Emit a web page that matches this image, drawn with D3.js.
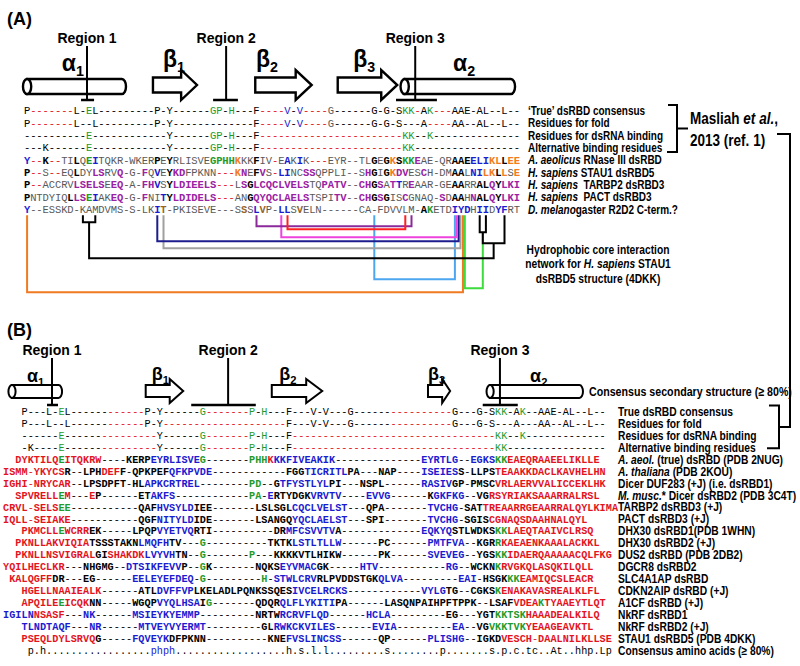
<!DOCTYPE html>
<html><head><meta charset="utf-8">
<script src="https://cdn.jsdelivr.net/npm/d3@7"></script>
<style>body{margin:0;background:#fff} text{white-space:pre}</style>
</head><body>
<svg id="c" width="800" height="666" xmlns="http://www.w3.org/2000/svg"></svg>
<script>
// ---------------- DATA ----------------
const COLORS = {k:'#000',d:'#000',g:'#595959',r:'#e3141e',G:'#1f9a2b',b:'#1b1bd0',p:'#9a22a3',o:'#f47a20',n:'#9a6424'};

// Panel A rows (markup: {code}run)
const aLabels = [
  "‘True’ dsRBD consensus",
  "Residues for fold",
  "Residues for dsRNA binding",
  "Alternative binding residues",
  "<i>A. aeolicus</i> RNase III dsRBD",
  "<i>H. sapiens</i> STAU1 dsRBD5",
  "<i>H. sapiens</i>  TARBP2 dsRBD3",
  "<i>H. sapiens</i>  PACT dsRBD3",
  "<i>D. melano</i>gaster R2D2 C-term.?"
];
const aSeqs = [
  "{k}P{r}-------{k}L-{G}E{k}L---------P-Y------{G}GP{k}-{G}H{k}---F{r}----{b}V{k}-{b}V{r}----{g}G{k}------G-G-S{G}KK{r}-{k}A{G}K{r}---{k}AAE-AL--L--",
  "{k}P{r}-------{k}L--L---------P-Y-------------F{r}----{b}V{k}-{b}V{r}----{g}G{k}------G-G-S---A{r}----{k}AA--AL--L--",
  "{k}----------{G}E{k}------------Y------{G}GP{k}-{G}H{k}---F{r}-----------------------{G}KK{k}--{G}K{k}--------------",
  "{k}---K------{G}E{k}------------Y------{G}GP{k}-{G}H{k}---F{r}-----------------------{G}KK{k}-----------------",
  "{b}Y{r}--{k}K{r}--{g}TI{k}L{g}Q{G}E{b}I{g}TQKR-WKER{k}P{g}E{k}Y{g}RLISVE{G}GPHH{o}K{g}KK{k}F{g}IV{r}-{g}E{b}A{g}K{b}I{g}K{r}---{g}EYR--TL{k}G{g}E{k}G{o}K{k}S{G}KK{p}E{g}AE-QR{k}AAE{b}ELI{o}KL{k}L{o}EE",
  "{k}P{r}--{g}S{r}--{g}EQ{k}L{g}DY{p}LS{g}RV{p}Q{g}-G-{p}F{g}Q{b}V{g}E{k}Y{p}KD{g}FPKNN{r}---{o}K{p}N{g}E{k}F{p}V{g}S{r}-{b}LI{g}NC{p}SS{g}QPPLI--S{p}H{k}G{g}I{k}G{o}K{p}DV{g}ES{p}C{g}H-DM{k}AA{g}L{b}NI{o}LK{k}L{o}L{g}S{o}E",
  "{k}P{r}--{g}ACCRV{p}LSELS{g}E{p}EQ{g}-A-{p}FH{b}V{g}S{k}Y{p}LDIEELS{r}---{g}L{p}S{k}G{p}LCQCLVELS{g}TQ{p}PATV{g}--{p}CH{k}G{p}S{g}A{p}T{b}T{g}R{p}E{g}AAR-GE{k}AA{g}RR{k}AL{p}Q{k}Y{p}LKI",
  "{k}P{g}NTDYIQ{k}L{p}LS{G}E{b}I{g}AK{p}EQ{g}-G-{p}F{g}NI{b}T{k}Y{p}LDIDELS{r}---{g}AN{k}G{p}QYQCLAELS{g}TSPI{p}TV{g}--{p}CH{k}G{p}S{k}G{g}IS{p}C{g}GNAQ-{p}S{g}D{k}AA{g}H{p}N{k}AL{p}Q{k}Y{p}LKI",
  "{b}Y{g}--ESSKD-KAMDVMS-S-LK{b}I{n}T{g}-PKISEVE---S{n}S{g}S{b}L{n}V{g}P-{b}LL{g}S{n}V{g}ELN------CA-FDVVLM-{k}A{G}K{g}ETD{b}IYD{g}H{b}II{g}D{b}YF{g}RT"
];
const aBold = ['none','none','none','none','colored','colored','colored','colored','colored'];

// Panel A secondary structure (alignment columns)
const aStructs = [
  {type:'helix',  name:'α', sub:'1', from:0,    to:15.95, labelCol:5.6},
  {type:'strand', name:'β', sub:'1', from:20.3, to:27.4,  labelCol:21.9},
  {type:'strand', name:'β', sub:'2', from:36.8, to:45.9,  labelCol:36.9},
  {type:'strand', name:'β', sub:'3', from:50.1, to:59.7,  labelCol:52.6},
  {type:'helix',  name:'α', sub:'2', from:60.9, to:78.7,  labelCol:68.7}
];
const aRegions = [
  {name:'Region 1', col:9.66, from:8.7,  to:10.8},
  {name:'Region 2', col:32.1, from:30.0, to:34.0},
  {name:'Region 3', col:62.6, from:59.5, to:66.1}
];

// Hydrophobic core interaction network (R2D2 row columns)
const netLinks = [
  {color:'#f07a21', a:0,  b:70.3, depth:77},
  {color:'#3ddc3d', a:70.6, b:73.5, depth:73, bTop:17},
  {color:'#4da6f0', a:56, b:69, depth:64},
  {color:'#a0a0a0', a:22, b:69.9, depth:33},
  {color:'#1c1c8f', a:21, b:69.6, depth:26},
  {color:'#ee44dd', a:41, b:69.3, depth:22},
  {color:'#8b2a9a', a:37, b:62, depth:11},
  {color:'#ff2020', a:42, b:61, depth:14}
];
const netBlack = {leftPair:[9,11], rightPair:[73,74], rightEnd:77, depth:43};
const netLabel = ["Hydrophobic core interaction", "network for <i>H. sapiens</i> STAU1", "dsRBD5 structure (4DKK)"];

// Panel B rows
const bLabels = [
  "True dsRBD consensus","Residues for fold","Residues for dsRNA binding","Alternative binding residues",
  "<i>A. aeol.</i> (true) dsRBD (PDB 2NUG)","<i>A. thaliana</i> (PDB 2KOU)","Dicer DUF283 (+J) (i.e. dsRBD1)",
  "<i>M. musc.</i>* Dicer dsRBD2 (PDB 3C4T)","TARBP2 dsRBD3 (+J)","PACT dsRBD3 (+J)","DHX30 dsRBD1(PDB 1WHN)",
  "DHX30 dsRBD2 (+J)","DUS2 dsRBD (PDB 2DB2)","DGCR8 dsRBD2","SLC4A1AP dsRBD","CDKN2AIP dsRBD (+J)",
  "A1CF dsRBD (+J)","NkRF dsRBD1","NkRF dsRBD2 (+J)","STAU1 dsRBD5 (PDB 4DKK)","Consensus amino acids (≥ 80%)"
];
const bStarts = [3,3,3,3, 2,0,0,2,0,0,3,2,2,0,1,3,3,0,3,3,4];
const bSeqs = [
  "{d}P---L-{G}E{d}L------{r}------{d}P-Y------{G}G{r}-------{G}P{d}-{G}H{d}---F---V-V---G------{r}----------{d}G---G-S{G}KK{d}-A{G}K{d}--AAE-AL--L--",
  "{d}P---L--L------{r}------{d}P-Y{r}--------------------{d}F---V-V---G------{r}----------{d}G---G-S---A---AA--AL--L--",
  "{d}------{G}E{d}------{r}---------{d}Y------{G}G{r}-------{G}P{d}-{G}H{d}---F{r}---------------------------------{G}KK{d}--{G}K{d}-------------",
  "{d}-K----{G}E{d}------{r}---------{d}Y------{G}G{r}-------{G}P{d}-{G}H{d}---F{r}---------------------------------{G}KK{d}----------------",
  "{r}DYKTILQ{G}E{r}ITQKRW{d}----KERP{b}EYRLISVE{G}G{d}-------{G}PHH{r}K{b}KKFIVEAKIK{d}--------------{b}EYRTLG{d}--{b}EGKS{G}KK{r}EAEQRAAEELIKLLE",
  "{r}ISMM-YKYCS{d}R--LPH{r}DEF{d}F-QPKPEF{b}QFKPVDE{d}------------FGG{b}TICRITL{d}PA---NAP----{b}ISEIES{d}S-LLPS{r}TEAAKKDACLKAVHELHN",
  "{r}IGHI-NRYCAR{d}--LPSDPFT-HL{b}APKCRTREL{d}--------{G}PD{d}--G{b}TFYSTLYL{d}PI---NSPL------{b}RASIV{d}GP-PMSC{r}VRLAERVVALICCEKLHK",
  "{r}SPVRELL{G}E{r}M{d}---{r}E{d}P------ET{b}AKFS{d}------------{G}PA{d}-{b}E{d}RTYDGK{b}VRVTV{d}----{b}EVVG{d}------K{b}GKFKG{d}--VG{r}RSYRIAKSAAARRALRSL",
  "{r}CRVL-SELS{G}EE{d}-----------QAF{b}HVSYLD{d}IEE-------LSLSGL{b}CQCLVELST{d}---QPA-------{b}TVCHG{d}-SAT{r}TREAARRGEAARRALQYLKIMA",
  "{r}IQLL-SEIAKE{d}-----------QGF{b}NITYLD{d}IDE-------LSANGQ{b}YQCLAELST{d}---SPI-------{b}TVCHG{d}-SGIS{r}CGNAQSDAAHNALQYL",
  "{r}PKMCLL{G}E{r}WCRR{d}EK-----LPQP{b}VYETVQ{d}RTI----------DR{b}MFCSVVTV{d}A-------------{b}EQKYQ{d}STLWDKS{G}KK{r}LAEQTAAIVCLRSQ",
  "{r}PKNLLAKVIQIA{d}TSSSTAKN{b}LMQFH{d}TV---{G}G{d}----------TKTK{b}LSTLTLLW{d}------PC------{b}PMTFVA{d}--KGR{G}R{r}KAEAENKAAALACKKL",
  "{r}PKNLLNSVIGRAL{d}GI{r}SHAKDK{b}LVYVH{d}TN--{G}G{d}-------{G}P{d}---KKKKVTLHIKW------PK------{b}SVEVEG{d}--YGS{G}KK{r}IDAERQAAAAACQLFKG",
  "{r}YQILHECLKR{d}---NHGMG--{b}DTSIKFEVV{d}P--{G}G{d}K-------NQKS{b}EYVMAC{d}GK-----{b}HTV{d}-----------{b}RG{d}--WCKN{G}K{r}RVGKQLASQKILQLL",
  "{r}KALQGFF{d}DR---EG------{b}EELEYEFDEQ{d}-{G}G{d}---------{G}H{d}-{b}STWLCRV{d}RLPVDDSTGK{b}QLVA{d}---------{b}EAI{d}-HSGK{G}KK{r}EAMIQCSLEACR",
  "{r}HGELLNAAIEALK{d}------ATL{b}DVFFVP{d}LKELADLPQNKSSQES{b}IVCELRCKS{d}------------{b}VYLG{d}TG--CGKS{G}K{r}ENAKAVASREALKLFL",
  "{r}APQILE{G}E{r}ICQK{d}NN-----WGQP{b}VYQLHSA{d}I{G}G{d}-------QDQR{b}QLFLYKITI{d}PA------LASQNPAIHPFTPPK--LSAF{r}VDEA{G}K{r}TYAAEYTLQT",
  "{b}IGILN{r}NSASF{d}---{b}NK{d}------{b}MSIEYKYEMMP{d}---------NRTW{b}RCRVFLQD{d}------{b}HCLA{d}---------EG---YGT{G}KKTSK{r}HAAADEALKILQ",
  "{b}TLNDTAQF{d}---{b}NR{d}------{b}MTVEYVYERMT{d}---------GL{b}RWKCKVILES{d}------{b}EVIA{d}---------{b}EA{d}--VG{G}VKKTVK{r}YEAAGEAVKTL",
  "{r}PSEQLDYLSRVQ{d}G-----{b}FQVEYK{d}DFPKNN----------KNE{b}FVSLINCSS{d}------QP------{b}PLISHG{d}--IGKD{r}VESCH-DAALNILKLLSE",
  "{d}p.h.................{b}phph{d}..................h.s.l.l.........s........p.......s.p.c.tc..At..hhp.Lp"
];
const bBold = ['none','none','none','none','all','all','all','all','all','all','all','all','all','all','all','all','all','all','all','all','none'];

const bStructs = [
  {type:'helix',  name:'α', sub:'1', from:0.96, to:9.1,  labelCol:3.4},
  {type:'strand', name:'β', sub:'1', from:22.7, to:28.8, labelCol:23.7},
  {type:'strand', name:'β', sub:'2', from:43.2, to:51.4, labelCol:44.4},
  {type:'strand', name:'β', sub:'3', from:68.6, to:72.2, labelCol:68.6},
  {type:'helix',  name:'α', sub:'2', from:78.7, to:93.8, labelCol:85.2}
];
const bRegions = [
  {name:'Region 1', col:7.46, from:6.65, to:8.44},
  {name:'Region 2', col:36.1, from:30.1, to:40.6},
  {name:'Region 3', col:80.3, from:77.5, to:83.2}
];

// ---------------- DRAWING ----------------
const svg = d3.select('#c');
svg.append('rect').attr('width',800).attr('height',666).attr('fill','#fff');
const seqFont = "'Liberation Mono','Courier New',monospace";
const sans = "'Liberation Sans',Arial,sans-serif";
const NARROW = 0.82;

const xA = d3.scaleLinear().domain([0,1]).range([27.1,33.3]);
const yA = d3.scaleLinear().domain([0,1]).range([110.5,122.83]);
const xB = d3.scaleLinear().domain([0,1]).range([6.1,12.25]);
const yB = d3.scaleLinear().domain([0,1]).range([411.5,423.43]);

function parseSeq(m){
  const out=[]; const re=/\{(\w)\}([^{]*)/g; let mt;
  while((mt=re.exec(m))){ for(const ch of mt[2]) out.push({ch:ch,c:mt[1]}); }
  return out;
}
function rich(sel,str){
  str.split(/(<i>.*?<\/i>)/).filter(s=>s).forEach(p=>{
    const it=p.startsWith('<i>');
    sel.append('tspan').attr('font-style',it?'italic':null).text(it?p.slice(3,-4):p);
  });
  return sel;
}
// condensed (narrow) bold label
function narrowText(parent,x,y,fs,anchor){
  return parent.append('g').attr('transform',`translate(${x},${y}) scale(${NARROW},1)`)
    .append('text').attr('x',0).attr('y',0).attr('dy','0.36em')
    .attr('text-anchor',anchor||'start').attr('font-family',sans).attr('font-weight','bold').attr('font-size',fs);
}
function drawRow(g,chars,start,y,xs,fs,mode){
  g.append('g').selectAll('text').data(chars).join('text')
    .attr('x',(d,i)=>xs(start+i)).attr('y',y).attr('dy','0.36em')
    .attr('text-anchor','middle').attr('font-family',seqFont).attr('font-size',fs)
    .attr('font-weight',d=>{
      if(d.ch==='-'||d.ch==='.') return 'normal';
      if(mode==='all') return 'bold';
      if(mode==='colored' && 'kbpGon'.includes(d.c)) return 'bold';
      return 'normal';})
    .attr('fill',d=>COLORS[d.c]).text(d=>d.ch);
}
function helix(g,x1,x2,cy,h,sw){
  const r=h/2, e=r*0.55;
  g.append('path').attr('d',`M${x1},${cy-r}H${x2-e}A${e},${r} 0 0 1 ${x2-e},${cy+r}H${x1}Z`)
    .attr('fill','#fff').attr('stroke','#000').attr('stroke-width',sw);
  g.append('ellipse').attr('cx',x1).attr('cy',cy).attr('rx',e).attr('ry',r)
    .attr('fill','#fff').attr('stroke','#000').attr('stroke-width',sw);
}
function strand(g,x1,x2,cy,bh,hh,sw){
  const hl=Math.min(16,(x2-x1)*0.36);
  g.append('path').attr('d',`M${x1},${cy-bh/2}H${x2-hl}V${cy-hh/2}L${x2},${cy}L${x2-hl},${cy+hh/2}V${cy+bh/2}H${x1}Z`)
    .attr('fill','#fff').attr('stroke','#000').attr('stroke-width',sw).attr('stroke-linejoin','miter');
}
function ssLabel(g,x,y,s,fs){
  const t=g.append('text').attr('x',x).attr('y',y).attr('font-family',sans).attr('font-weight','bold').attr('font-size',fs);
  t.append('tspan').text(s.name);
  t.append('tspan').attr('font-size',fs*0.62).attr('dy',fs*0.2).text(s.sub);
}
const line=(g,pts,color,w)=>g.append('path').attr('d',d3.line()(pts)).attr('fill','none').attr('stroke',color).attr('stroke-width',w);

// ---- Panel A ----
const gA = svg.append('g');
gA.append('text').attr('x',7).attr('y',25).attr('font-family',sans).attr('font-weight','bold').attr('font-size',18).text('(A)');
aStructs.forEach(s=>{
  const x1=xA(s.from), x2=xA(s.to);
  if(s.type==='helix') helix(gA,x1,x2,86.5,15,2.4);
  else strand(gA,x1,x2,85,15,30,2.4);
  ssLabel(gA,xA(s.labelCol),s.name==='β'?67:71,s,23);
});
aRegions.forEach(r=>{
  gA.append('text').attr('x',xA(r.col)).attr('y',43).attr('text-anchor','middle')
    .attr('font-family',sans).attr('font-weight','bold').attr('font-size',14).text(r.name);
  gA.append('line').attr('x1',xA(r.col)).attr('x2',xA(r.col)).attr('y1',46).attr('y2',100).attr('stroke','#000').attr('stroke-width',2);
  gA.append('line').attr('x1',xA(r.from)).attr('x2',xA(r.to)).attr('y1',100).attr('y2',100).attr('stroke','#000').attr('stroke-width',2.5);
});
aSeqs.forEach((m,i)=>drawRow(gA,parseSeq(m),0,yA(i),xA,10.5,aBold[i]));
aLabels.forEach((l,i)=>rich(narrowText(gA,528,yA(i),12.2),l));
// bracket A
const brA=[yA(0)-5.5,yA(3)+4.5];
line(gA,[[668,brA[0]],[677,brA[0]],[677,brA[1]],[667,brA[1]]],'#000',2);
line(gA,[[677,(brA[0]+brA[1])/2],[688,(brA[0]+brA[1])/2]],'#000',2);
narrowText(gA,690,118,16.5).call(t=>{t.append('tspan').text('Masliah ');t.append('tspan').attr('font-style','italic').text('et al.');t.append('tspan').text(',');});
narrowText(gA,690,140,16.5).text('2013 (ref. 1)');

// network
const topY = yA(8)+6;
const netY = d=>topY+d;
netLinks.forEach(l=>{
  const endTop = l.bTop!==undefined ? netY(l.bTop) : topY;
  line(gA,[[xA(l.a),topY],[xA(l.a),netY(l.depth)],[xA(l.b),netY(l.depth)],[xA(l.b),endTop]],l.color,2);
});
{
  const b=netBlack, L=b.leftPair, R=b.rightPair;
  const lm=(L[0]+L[1])/2, rm=(R[0]+R[1])/2, jm=(rm+b.rightEnd)/2;
  line(gA,[[xA(L[0]),topY],[xA(L[0]),netY(7)],[xA(L[1]),netY(7)],[xA(L[1]),topY]],'#000',2);
  line(gA,[[xA(lm),netY(7)],[xA(lm),netY(b.depth)],[xA(jm),netY(b.depth)],[xA(jm),netY(28)]],'#000',2);
  line(gA,[[xA(R[0]),topY],[xA(R[0]),netY(17)],[xA(R[1]),netY(17)],[xA(R[1]),topY]],'#000',2);
  line(gA,[[xA(rm),netY(17)],[xA(rm),netY(28)],[xA(b.rightEnd),netY(28)],[xA(b.rightEnd),topY]],'#000',2);
}
netLabel.forEach((s,i)=>rich(narrowText(gA,598,249+i*14.5,12.5,'middle'),s));

// ---- Panel B ----
const gB = svg.append('g');
gB.append('text').attr('x',7).attr('y',336).attr('font-family',sans).attr('font-weight','bold').attr('font-size',18).text('(B)');
bStructs.forEach(s=>{
  const x1=xB(s.from), x2=xB(s.to);
  if(s.type==='helix') helix(gB,x1,x2,391.5,13,2);
  else strand(gB,x1,x2,391,12,24,2);
  ssLabel(gB,xB(s.labelCol),s.name==='β'?380:382,s,18);
});
bRegions.forEach(r=>{
  gB.append('text').attr('x',xB(r.col)).attr('y',355).attr('text-anchor','middle')
    .attr('font-family',sans).attr('font-weight','bold').attr('font-size',14).text(r.name);
  gB.append('line').attr('x1',xB(r.col)).attr('x2',xB(r.col)).attr('y1',358).attr('y2',405).attr('stroke','#000').attr('stroke-width',2);
  gB.append('line').attr('x1',xB(r.from)).attr('x2',xB(r.to)).attr('y1',405).attr('y2',405).attr('stroke','#000').attr('stroke-width',2.5);
});
narrowText(gB,589,391,13).text('Consensus secondary structure (≥ 80%)');
bSeqs.forEach((m,i)=>drawRow(gB,parseSeq(m),bStarts[i],yB(i),xB,10.2,bBold[i]));
bLabels.forEach((l,i)=>rich(narrowText(gB,618,yB(i),12.5),l));
// bracket B and connector
const brB=[yB(0)-6,yB(3)+1];
line(gB,[[769,brB[0]],[779,brB[0]],[779,brB[1]],[767,brB[1]]],'#000',2);
line(svg,[[777,134],[790,134],[790,(brB[0]+brB[1])/2],[779,(brB[0]+brB[1])/2]],'#000',2);
</script>
</body></html>
